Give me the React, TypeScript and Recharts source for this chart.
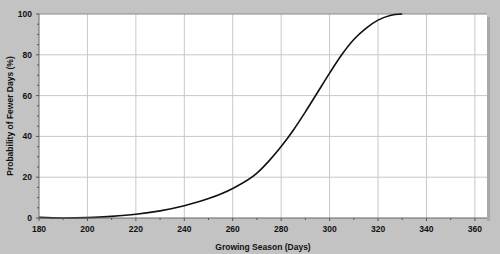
import { LineChart, Line, XAxis, YAxis, CartesianGrid, ReferenceLine, Label } from "recharts";

const days = [180, 190, 200, 210, 220, 230, 240, 250, 260, 270, 275, 280, 285, 290, 295, 300, 305, 310, 315, 320, 325, 330];
const probability = [0.3, 0, 0.2, 0.8, 1.8, 3.5, 6, 9.5, 14.5, 22, 28, 35, 43, 52, 61.5, 71, 80, 87.5, 93, 97, 99.3, 100];

const xTicks = [180, 190, 200, 210, 220, 230, 240, 250, 260, 270, 280, 290, 300, 310, 320, 330, 340, 350, 360];
const xLabels = [180, 200, 220, 240, 260, 280, 300, 320, 340, 360];
const yTicks = [0, 5, 10, 15, 20, 25, 30, 35, 40, 45, 50, 55, 60, 65, 70, 75, 80, 85, 90, 95, 100];
const yLabels = [0, 20, 40, 60, 80, 100];

const data = days.map((d, i) => ({ day: d, p: probability[i] }));

const font = "'Liberation Sans', Arial, sans-serif";

const XTick = (props: any) => {
  const { x, y, payload } = props;
  const major = xLabels.includes(payload.value);
  return (
    <g>
      <line x1={x} x2={x} y1={y} y2={y + (major ? 3 : 2)} stroke="#555" />
      {major && (
        <text x={x} y={y + 14} textAnchor="middle" fontSize={8.5} fontWeight="bold" fontFamily={font} fill="#111">
          {payload.value}
        </text>
      )}
    </g>
  );
};

const YTick = (props: any) => {
  const { x, y, payload } = props;
  const major = yLabels.includes(payload.value);
  return (
    <g>
      <line x1={x - (major ? 3 : 2)} x2={x} y1={y} y2={y} stroke="#555" />
      {major && (
        <text x={x - 7} y={y + 3} textAnchor="end" fontSize={8.5} fontWeight="bold" fontFamily={font} fill="#111">
          {payload.value}
        </text>
      )}
    </g>
  );
};

export default function App() {
  return (
    <div style={{ position: "absolute", left: 0, top: 0, width: 500, height: 254, background: "#c3c3c3" }}>
      {/* right-hand shadow of the plot panel */}
      <div style={{ position: "absolute", left: 487, top: 17, width: 3, height: 204, background: "#a9a9a9" }} />
      <div style={{ position: "absolute", left: 0, top: 0 }}>
        <LineChart width={500} height={254} data={data} margin={{ top: 14, right: 13, bottom: 0, left: 0 }}>
          <CartesianGrid fill="#ffffff" horizontal={false} vertical={false} />
          {xLabels.slice(1).map((v) => (
            <ReferenceLine key={"x" + v} x={v} stroke="#c8c8c8" />
          ))}
          {yLabels.slice(1, -1).map((v) => (
            <ReferenceLine key={"y" + v} y={v} stroke="#c8c8c8" />
          ))}
          <ReferenceLine y={100} stroke="#8a8a8a" />
          <XAxis
            dataKey="day"
            type="number"
            domain={[180, 365]}
            ticks={xTicks}
            interval={0}
            height={36}
            tickSize={0}
            tickMargin={0}
            tickLine={false}
            tick={<XTick />}
            axisLine={{ stroke: "#666" }}
          >
            <Label
              value="Growing Season (Days)"
              position="insideBottom"
              offset={4}
              style={{ fontSize: 8.5, fontWeight: "bold", fontFamily: font, fill: "#111" }}
            />
          </XAxis>
          <YAxis
            type="number"
            domain={[0, 100]}
            ticks={yTicks}
            interval={0}
            width={39}
            tickSize={0}
            tickMargin={0}
            tickLine={false}
            tick={<YTick />}
            axisLine={{ stroke: "#666" }}
          >
            <Label
              value="Probability of Fewer Days (%)"
              angle={-90}
              position="insideLeft"
              offset={10}
              style={{ textAnchor: "middle", fontSize: 8.5, fontWeight: "bold", fontFamily: font, fill: "#111" }}
            />
          </YAxis>
          <Line type="monotone" dataKey="p" stroke="#111" strokeWidth={1.6} dot={false} isAnimationActive={false} />
        </LineChart>
      </div>
    </div>
  );
}
